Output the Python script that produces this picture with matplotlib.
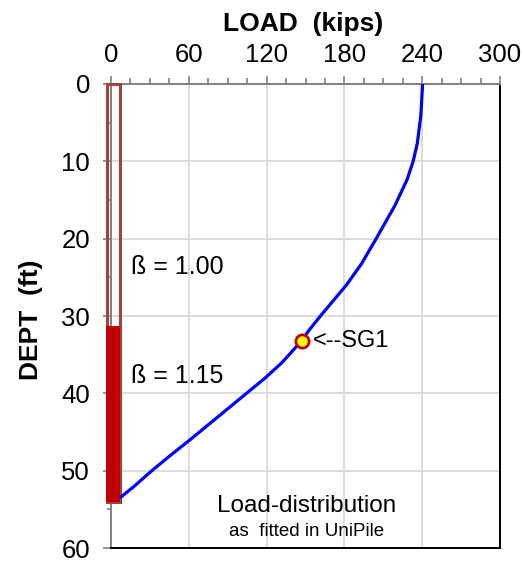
import matplotlib
matplotlib.use("Agg")
import matplotlib.pyplot as plt
from matplotlib.patches import Rectangle

plt.rcParams['font.family'] = ['Liberation Sans', 'DejaVu Sans']

# Load distribution data (depth in ft, load in kips)
depth_ft = [0, 4, 7.7, 10, 12.3, 15.7, 20, 23.3, 26, 28, 30, 32, 33.3,
            36, 38, 40, 42, 44, 46, 48, 50, 52, 53.5]
load_kips = [240.3, 239, 236.2, 233, 228.5, 219, 204.5, 193, 181.5, 171.5, 161.5,
             152, 146.5, 132, 119, 104.5, 90, 75.5, 61, 46, 31.5, 18, 7]

# Strain gauge
sg_load = [147]
sg_depth = [33.2]
sg_label = "<--SG1"

# Pile and beta zones
pile_top = 0
pile_toe = 54
beta2_top = 31.3
beta_labels = ["ß = 1.00", "ß = 1.15"]
beta_label_depths = [23.6, 37.8]

x_ticks = [0, 60, 120, 180, 240, 300]
y_ticks = [0, 10, 20, 30, 40, 50, 60]

fig = plt.figure(figsize=(5.23, 5.61), dpi=100)
ax = fig.add_axes([111/523, 1-548/561, (500-111)/523, (548-84)/561])
ax.set_xlim(0, 300)
ax.set_ylim(60, 0)

ax.xaxis.tick_top()
ax.set_xticks(x_ticks)
ax.set_xticks(range(0, 301, 15), minor=True)
ax.set_yticks(y_ticks)
ax.set_yticks(range(0, 61, 5), minor=True)
ax.tick_params(axis='x', which='major', length=6, width=1.2, color='#808080',
               labelsize=18.5, pad=6.5, top=True, bottom=False)
ax.tick_params(axis='x', which='minor', length=4, width=1.2, color='#808080',
               top=True, bottom=False)
ax.tick_params(axis='y', which='major', length=6, width=1.2, color='#808080',
               labelsize=18.5, pad=9)
ax.tick_params(axis='y', which='minor', length=3, width=1.2, color='#808080')

ax.grid(True, which='major', color='#D9D9D9', linewidth=1.3, zorder=0)
ax.set_axisbelow(True)

for side in ['top', 'left']:
    ax.spines[side].set_color('#808080')
    ax.spines[side].set_linewidth(1.4)
for side in ['bottom', 'right']:
    ax.spines[side].set_color('black')
    ax.spines[side].set_linewidth(1.4)

# pile
pl, pr = -3.3, 7.0
ax.add_patch(Rectangle((pl, pile_top), pr - pl, pile_toe - pile_top, fill=False,
                       edgecolor='#A8403C', linewidth=2.2, clip_on=False, zorder=3))
ax.add_patch(Rectangle((pl - 0.5, beta2_top), pr - pl + 0.5, pile_toe - beta2_top,
                       facecolor='#C00000', edgecolor='none', clip_on=False, zorder=4))

ax.plot(load_kips, depth_ft, color='#0000FF', linewidth=2.3, zorder=5,
        solid_capstyle='butt', solid_joinstyle='round')
ax.plot(sg_load, sg_depth, 'o', markersize=9.5, markerfacecolor='#FFFF00',
        markeredgecolor='#C00000', markeredgewidth=2.0, zorder=6)
ax.text(155.5, sg_depth[0], sg_label, fontsize=17, va='center', ha='left', zorder=7)

for lbl, d in zip(beta_labels, beta_label_depths):
    ax.text(15.2, d, lbl, fontsize=18, va='center', ha='left')

ax.text(150.5, 54.6, "Load-distribution", fontsize=17.5, ha='center', va='center')
ax.text(150.5, 57.9, "as  fitted in UniPile", fontsize=13.5, ha='center', va='center')

fig.text(303/523, 1-31/561, "LOAD  (kips)", fontsize=19, fontweight='bold',
         ha='center', va='baseline')
fig.text(31/523, 1-320/561, "DEPT  (ft)", fontsize=19, fontweight='bold',
         ha='center', va='center', rotation=90)

fig.savefig("out.png", dpi=100)
